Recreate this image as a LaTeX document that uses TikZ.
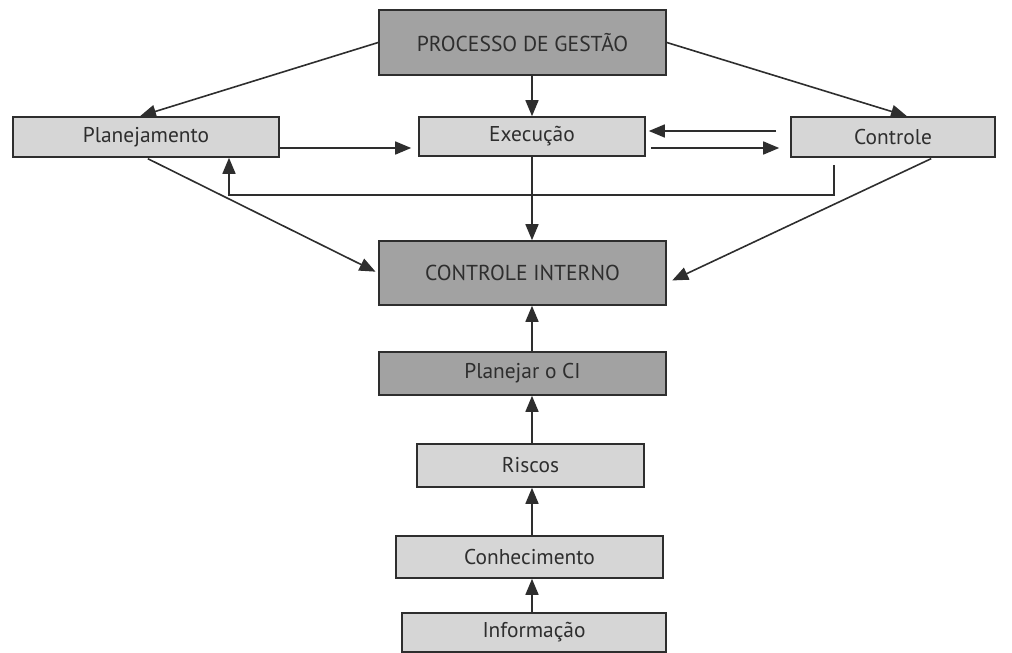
\documentclass[tikz,border=0pt]{standalone}
\usepackage{fontspec}
\setmainfont{PT Sans}
\usetikzlibrary{arrows.meta}
\definecolor{boxdark}{HTML}{A2A2A2}
\definecolor{boxlight}{HTML}{D6D6D6}
\definecolor{inkgray}{HTML}{2E2E2E}
\begin{document}
\begin{tikzpicture}[x=0.5pt,y=-0.5pt,
  darkbox/.style={draw=inkgray, fill=boxdark, line width=0.8pt, inner sep=0pt,
    text=inkgray, font=\fontsize{10.8}{13}\selectfont},
  lightbox/.style={draw=inkgray, fill=boxlight, line width=0.8pt, inner sep=0pt,
    text=inkgray, font=\fontsize{10.7}{13}\selectfont},
  link/.style={line width=0.8pt, draw=inkgray, -{Triangle[length=8pt,width=6.5pt]}}]
\useasboundingbox (0,0) rectangle (1012,653);

\node (proc) at (522.5,42.5) [darkbox, minimum width=143.5pt, minimum height=32.5pt] {PROCESSO DE GESTÃO};
\node (plan) at (146,137) [lightbox, minimum width=133pt, minimum height=20pt] {Planejamento};
\node (exec) at (532,136.5) [lightbox, minimum width=113pt, minimum height=19.5pt] {Execução};
\node (ctrl) at (893,137) [lightbox, minimum width=102pt, minimum height=20pt] {Controle};
\node (ci) at (522.5,273) [darkbox, minimum width=143.5pt, minimum height=32pt] {CONTROLE INTERNO};
\node (pci) at (522.5,373.5) [darkbox, minimum width=143.5pt, minimum height=21.5pt, font=\fontsize{10.7}{13}\selectfont] {Planejar o CI};
\node (risc) at (530.5,465.5) [lightbox, minimum width=113.5pt, minimum height=21.5pt] {Riscos};
\node (conh) at (529.5,557) [lightbox, minimum width=133.5pt, minimum height=21pt] {Conhecimento};
\node (info) at (534,632.5) [lightbox, minimum width=132pt, minimum height=19.5pt] {Informação};
\coordinate (fb) at (834,195);

% processo de gestao
\draw[link]
(proc.west) to ([xshift=-3pt]plan.north);
\draw[link]
(proc.east) to ([xshift=7pt]ctrl.north);
\draw[link]
(proc.south -| exec) to (exec.north);

% planejamento, execucao, controle
\draw[link, shorten >=3.5pt]
([yshift=-5.5pt]plan.east) to ([yshift=-5.75pt]exec.west);
\draw[link, shorten <=7pt, shorten >=1.5pt]
([yshift=3pt]ctrl.west) to ([yshift=2.75pt]exec.east);
\draw[link, shorten <=2.5pt, shorten >=5.5pt]
([yshift=-5.75pt]exec.east) to ([yshift=-5.5pt]ctrl.west);
\draw[link, shorten <=3.5pt]
([xshift=-29.5pt]ctrl.south) -- (fb) -| ([xshift=41.5pt]plan.south);

% controle interno
\draw[link, shorten <=1pt, shorten >=1.5pt]
(plan.south) to (ci.west);
\draw[link, shorten <=1pt, shorten >=3pt]
([xshift=20pt]ctrl.south) to ([yshift=-5pt]ci.east);
\draw[link]
(exec.south) to (ci.north -| exec);
\draw[link]
(pci.north -| exec) to (ci.south -| exec);
\draw[link]
(risc.north -| exec) to (pci.south -| exec);
\draw[link]
(conh.north -| exec) to (risc.south -| exec);
\draw[link]
(info.north -| exec) to (conh.south -| exec);
\end{tikzpicture}
\end{document}
